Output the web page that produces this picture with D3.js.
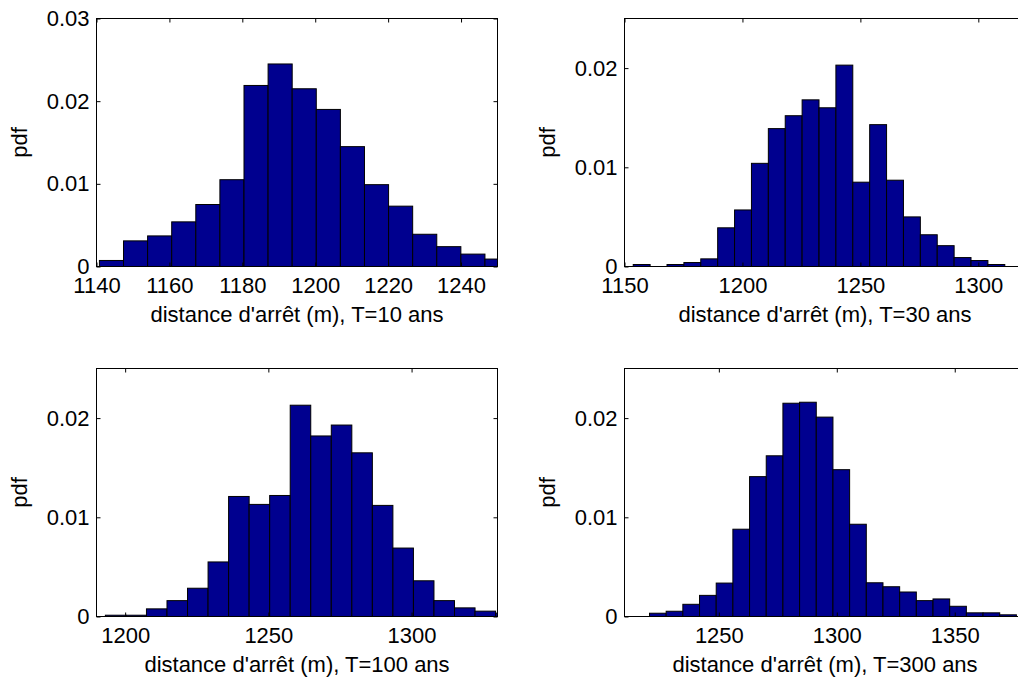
<!DOCTYPE html>
<html>
<head>
<meta charset="utf-8">
<script src="https://cdn.jsdelivr.net/npm/d3@7"></script>
<style>
  body { margin: 0; background: #fff; }
  svg { display: block; }
  text { font-family: Arial, "Liberation Sans", Helvetica, sans-serif; fill: #000; }
</style>
</head>
<body>
<svg id="chart" width="1018" height="679"></svg>
<script>
// ---------- data ----------
// T = 10 ans
const edges10 = [1140.80,1147.41,1154.02,1160.63,1167.24,1173.85,1180.46,1187.07,1193.68,1200.29,1206.90,1213.51,1220.12,1226.73,1233.34,1239.95,1246.56,1253.17];
const pdf10 = [0.00073,0.0031,0.0037,0.0054,0.0075,0.0105,0.0219,0.0245,0.0215,0.0190,0.0145,0.0099,0.0073,0.0039,0.0024,0.0015,0.0009];
const xTicks10 = [1140,1160,1180,1200,1220,1240];
const yTicks10 = [0,0.01,0.02,0.03];

// T = 30 ans
const edges30 = [1153.70,1160.86,1168.02,1175.18,1182.34,1189.50,1196.66,1203.82,1210.98,1218.14,1225.30,1232.46,1239.62,1246.78,1253.94,1261.10,1268.26,1275.42,1282.58,1289.74,1296.90,1304.06,1311.22];
const pdf30 = [0.0002,0,0.0002,0.0004,0.00077,0.0039,0.0057,0.0104,0.0139,0.0152,0.0168,0.0160,0.0203,0.0085,0.0143,0.0087,0.0050,0.0032,0.0021,0.0009,0.0006,0.0002];
const xTicks30 = [1150,1200,1250,1300];
const yTicks30 = [0,0.01,0.02];

// T = 100 ans
const edges100 = [1193.10,1200.27,1207.44,1214.61,1221.78,1228.95,1236.12,1243.29,1250.46,1257.63,1264.80,1271.97,1279.14,1286.31,1293.48,1300.65,1307.82,1314.99,1322.16,1329.33,1336.50];
const pdf100 = [0.00013,0.00013,0.00077,0.0016,0.00285,0.0055,0.0121,0.0113,0.0122,0.0213,0.0182,0.0193,0.0165,0.0112,0.0069,0.0036,0.0016,0.00087,0.00054,0.00034];
const xTicks100 = [1200,1250,1300];
const yTicks100 = [0,0.01,0.02];

// T = 300 ans
const edges300 = [1220.60,1227.67,1234.74,1241.81,1248.88,1255.95,1263.02,1270.09,1277.16,1284.23,1291.30,1298.37,1305.44,1312.51,1319.58,1326.65,1333.72,1340.79,1347.86,1354.93,1362.00,1369.07,1376.14];
const pdf300 = [0.00033,0.00053,0.00123,0.00213,0.00337,0.0088,0.0141,0.0162,0.0215,0.0216,0.0201,0.0148,0.0093,0.0034,0.0030,0.00247,0.0016,0.00177,0.00103,0.00037,0.00037,0.00017];
const xTicks300 = [1250,1300,1350];
const yTicks300 = [0,0.01,0.02];

const xLabels = ["distance d'arrêt (m), T=10 ans","distance d'arrêt (m), T=30 ans","distance d'arrêt (m), T=100 ans","distance d'arrêt (m), T=300 ans"];
const yLabel = "pdf";

// ---------- layout ----------
const svg = d3.select("#chart");
const FS = 22;
const panels = [
  {edges: edges10,  pdf: pdf10,  xd: [1140,1250], yd: [0,0.03],  xt: xTicks10,  yt: yTicks10,  x0: 96.5,  y0: 18.5,  lab: xLabels[0]},
  {edges: edges30,  pdf: pdf30,  xd: [1150,1320], yd: [0,0.025], xt: xTicks30,  yt: yTicks30,  x0: 624.5, y0: 18.5,  lab: xLabels[1]},
  {edges: edges100, pdf: pdf100, xd: [1190,1330], yd: [0,0.025], xt: xTicks100, yt: yTicks100, x0: 96.5,  y0: 368.5, lab: xLabels[2]},
  {edges: edges300, pdf: pdf300, xd: [1210,1380], yd: [0,0.025], xt: xTicks300, yt: yTicks300, x0: 624.5, y0: 368.5, lab: xLabels[3]}
];
const W = 401, H = 248;
const fmtY = d => d === 0 ? "0" : d3.format(".2f")(d);

panels.forEach((p, i) => {
  const x = d3.scaleLinear().domain(p.xd).range([p.x0, p.x0 + W]);
  const y = d3.scaleLinear().domain(p.yd).range([p.y0 + H, p.y0]);
  const clipId = "clip" + i;
  svg.append("clipPath").attr("id", clipId)
    .append("rect").attr("x", p.x0).attr("y", p.y0).attr("width", W).attr("height", H);

  const bins = p.pdf.map((v, k) => ({a: p.edges[k], b: p.edges[k + 1], v}));
  svg.append("g").attr("clip-path", `url(#${clipId})`)
    .selectAll("rect").data(bins.filter(d => d.v > 0)).join("rect")
    .attr("x", d => x(d.a))
    .attr("width", d => x(d.b) - x(d.a))
    .attr("y", d => y(d.v))
    .attr("height", d => y(0) - y(d.v))
    .attr("fill", "rgb(0,0,143)")
    .attr("stroke", "#000")
    .attr("stroke-width", 1);

  // axes (ticks inward)
  const gB = svg.append("g").attr("transform", `translate(0,${p.y0 + H})`)
    .call(d3.axisBottom(x).tickValues(p.xt).tickSize(-4).tickPadding(11).tickFormat(d3.format("d")));
  const gT = svg.append("g").attr("transform", `translate(0,${p.y0})`)
    .call(d3.axisTop(x).tickValues(p.xt).tickSize(-4).tickFormat(""));
  const gL = svg.append("g").attr("transform", `translate(${p.x0},0)`)
    .call(d3.axisLeft(y).tickValues(p.yt).tickSize(-4).tickPadding(7).tickFormat(fmtY));
  const gR = svg.append("g").attr("transform", `translate(${p.x0 + W},0)`)
    .call(d3.axisRight(y).tickValues(p.yt).tickSize(-4).tickFormat(""));
  [gB, gT, gL, gR].forEach(g => {
    g.select(".domain").remove();
    g.selectAll("line").attr("stroke", "#000");
    g.selectAll("text").attr("font-size", FS).attr("font-family", "Arial, 'Liberation Sans', sans-serif").attr("fill", "#000");
  });

  // frame
  svg.append("rect").attr("x", p.x0).attr("y", p.y0).attr("width", W).attr("height", H)
    .attr("fill", "none").attr("stroke", "#000").attr("stroke-width", 1);

  // labels
  svg.append("text").attr("x", p.x0 + W / 2).attr("y", p.y0 + H + 55)
    .attr("text-anchor", "middle").attr("font-size", FS).text(p.lab);
  svg.append("text")
    .attr("transform", `translate(${p.x0 - 70},${p.y0 + H / 2}) rotate(-90)`)
    .attr("text-anchor", "middle").attr("font-size", FS).text(yLabel);
});
</script>
</body>
</html>
